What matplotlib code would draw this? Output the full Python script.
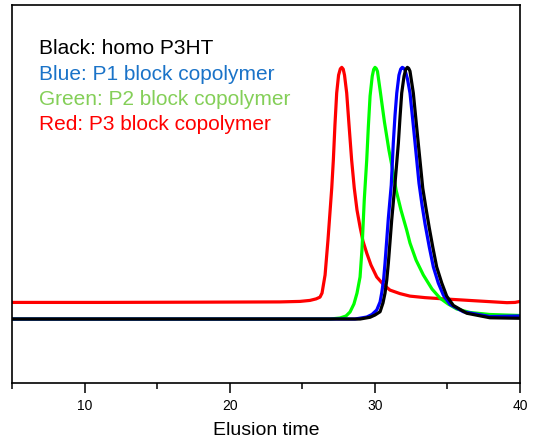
import matplotlib
matplotlib.use("Agg")
import matplotlib.pyplot as plt
from matplotlib.ticker import MultipleLocator

plt.rcParams['font.family'] = ['Liberation Sans', 'DejaVu Sans']

# elution time / normalised detector signal
red_x = [5.00, 11.06, 17.95, 23.46, 24.84, 25.53, 25.95, 26.22, 26.36, 26.57, 26.77,
         27.03, 27.14, 27.25, 27.37, 27.50, 27.62, 27.72, 27.82, 27.91, 28.06, 28.22,
         28.40, 28.58, 28.77, 28.98, 29.18, 29.44, 29.73, 30.13, 30.56, 31.04, 31.73,
         32.42, 33.46, 34.49, 36.76, 39.10, 39.66, 40.00]
red_y = [0.066, 0.066, 0.067, 0.068, 0.070, 0.074, 0.080, 0.087, 0.103, 0.175, 0.314,
         0.521, 0.632, 0.771, 0.898, 0.969, 0.994, 1.000, 0.993, 0.969, 0.898, 0.771,
         0.632, 0.521, 0.433, 0.366, 0.310, 0.262, 0.215, 0.167, 0.139, 0.115, 0.101,
         0.091, 0.085, 0.081, 0.073, 0.065, 0.066, 0.070]

green_x = [5.00, 26.91, 27.60, 28.01, 28.29, 28.56, 28.77, 28.98, 29.11, 29.27, 29.44,
           29.55, 29.67, 29.82, 29.92, 30.01, 30.10, 30.18, 30.36, 30.66, 30.97, 31.27,
           31.46, 31.80, 32.19, 32.42, 32.84, 33.34, 33.94, 34.49, 35.04, 35.64, 36.56,
           37.93, 40.00]
green_y = [0.000, 0.000, 0.004, 0.012, 0.028, 0.060, 0.103, 0.167, 0.274, 0.473, 0.632,
           0.763, 0.886, 0.965, 0.992, 1.000, 0.995, 0.984, 0.910, 0.783, 0.671, 0.580,
           0.513, 0.433, 0.354, 0.302, 0.234, 0.175, 0.119, 0.083, 0.060, 0.040, 0.026,
           0.018, 0.014]

blue_x = [5.00, 28.63, 29.44, 29.80, 30.13, 30.36, 30.47, 30.60, 30.70, 30.93, 31.13,
          31.27, 31.39, 31.51, 31.66, 31.78, 31.89, 31.98, 32.08, 32.25, 32.42, 32.59,
          32.77, 33.04, 33.25, 33.46, 33.75, 34.03, 34.37, 34.72, 35.18, 36.09, 37.93,
          40.00]
blue_y = [0.000, 0.000, 0.008, 0.018, 0.036, 0.068, 0.103, 0.155, 0.222, 0.401, 0.532,
          0.699, 0.810, 0.898, 0.969, 0.993, 1.000, 0.997, 0.989, 0.953, 0.898, 0.803,
          0.699, 0.540, 0.453, 0.377, 0.286, 0.207, 0.143, 0.095, 0.058, 0.029, 0.010,
          0.012]

black_x = [5.00, 28.98, 29.67, 30.01, 30.36, 30.56, 30.70, 30.82, 30.93, 31.16, 31.39,
           31.62, 31.73, 31.85, 32.01, 32.13, 32.24, 32.33, 32.42, 32.65, 32.99, 33.30,
           33.52, 33.75, 33.99, 34.26, 34.61, 34.95, 35.41, 36.33, 37.93, 40.00]
black_y = [0.000, 0.000, 0.007, 0.016, 0.029, 0.064, 0.103, 0.155, 0.222, 0.393, 0.540,
           0.699, 0.799, 0.898, 0.965, 0.992, 1.000, 0.996, 0.985, 0.898, 0.699, 0.520,
           0.441, 0.362, 0.286, 0.207, 0.143, 0.091, 0.054, 0.023, 0.005, 0.003]

labels = ["Black: homo P3HT", "Blue: P1 block copolymer",
          "Green: P2 block copolymer", "Red: P3 block copolymer"]
label_colors = ["#000000", "#1a73c8", "#84cf58", "#ff0000"]

fig = plt.figure(figsize=(5.33, 4.4), dpi=100)
ax = fig.add_axes([12/533, 1 - 382.7/440, 508/533, 378/440])

lw = 2.3
ax.plot(red_x, red_y, color="#ff0000", lw=lw, solid_joinstyle="round")
ax.plot(green_x, green_y, color="#00ff00", lw=lw, solid_joinstyle="round")
ax.plot(blue_x, blue_y, color="#0000ff", lw=lw, solid_joinstyle="round")
ax.plot(black_x, black_y, color="#000000", lw=lw, solid_joinstyle="round")

ax.set_xlim(5, 40)
ax.set_ylim(-0.253, 1.249)
ax.xaxis.set_major_locator(MultipleLocator(10))
ax.xaxis.set_minor_locator(MultipleLocator(5))
ax.set_yticks([])
ax.tick_params(axis="x", which="major", length=7, width=1.1, labelsize=10, pad=5)
ax.tick_params(axis="x", which="minor", length=4, width=1.1)
for s in ax.spines.values():
    s.set_linewidth(1.2)
ax.set_xlabel("Elusion time", fontsize=14, labelpad=6)

ys = [54.5, 79.5, 104.5, 129.5]
for t, c, yp in zip(labels, label_colors, ys):
    fig.text(39/533, 1 - yp/440, t, color=c, fontsize=15, va="baseline", ha="left")

fig.savefig("out.png", dpi=100)
